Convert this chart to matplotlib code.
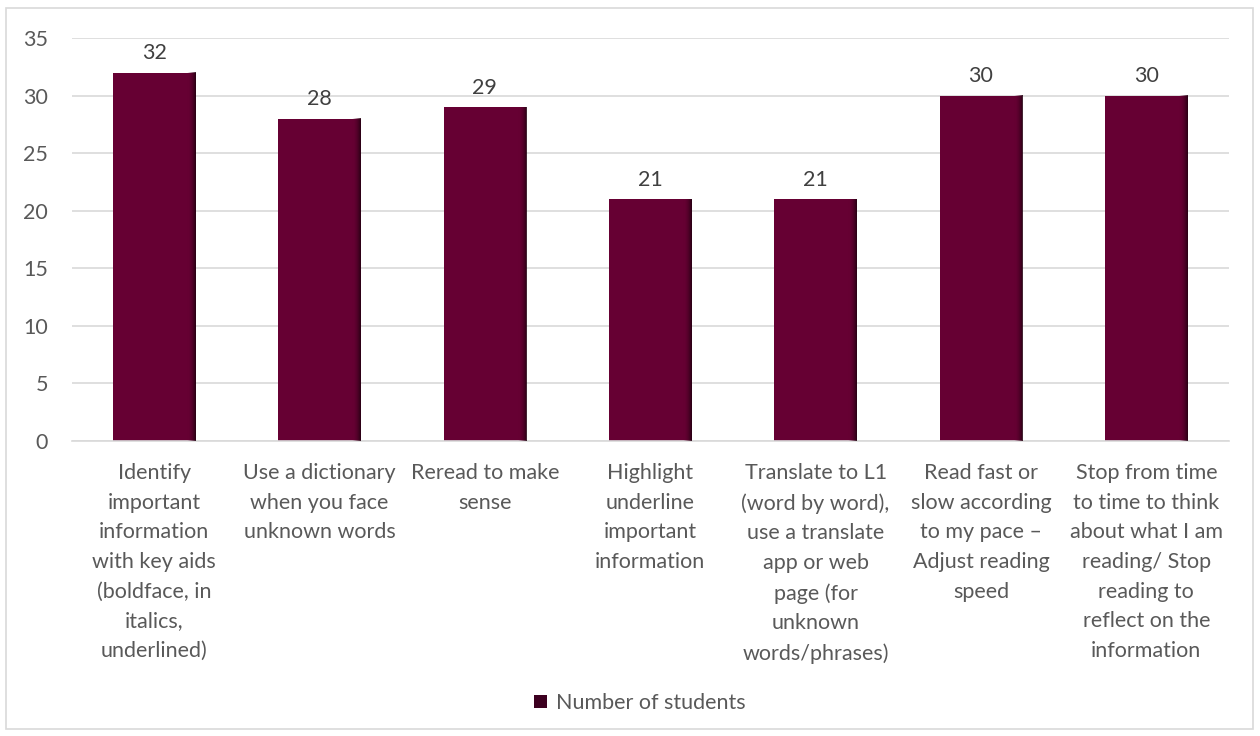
import numpy as np
import matplotlib.pyplot as plt
from matplotlib.patches import Rectangle
from matplotlib.colors import LinearSegmentedColormap

plt.rcParams['font.family'] = ['Lato', 'DejaVu Sans']

# datos
categorias = [
    "Identify\nimportant\ninformation\nwith key aids\n(boldface, in\nitalics,\nunderlined)",
    "Use a dictionary\nwhen you face\nunknown words",
    "Reread to make\nsense",
    "Highlight\nunderline\nimportant\ninformation",
    "Translate to L1\n(word by word),\nuse a translate\napp or web\npage (for\nunknown\nwords/phrases)",
    "Read fast or\nslow according\nto my pace \u2013\nAdjust reading\nspeed",
    "Stop from time\nto time to think\nabout what I am\nreading/ Stop\nreading to\nreflect on the\ninformation",
]
estudiantes = [32, 28, 29, 21, 21, 30, 30]
yticks = [0, 5, 10, 15, 20, 25, 30, 35]

color_barra = "#660033"
gris_texto = "#595959"
fs = 15.5

fig = plt.figure(figsize=(12.6, 7.36), dpi=100)
ax = fig.add_axes([71.5 / 1260, 1 - 441 / 736, (1229 - 71.5) / 1260, (441 - 38) / 736])

x = np.arange(len(estudiantes))
ancho = 0.5
barras = ax.bar(x, estudiantes, width=ancho, color=color_barra, zorder=2)

# sombreado en el borde derecho de cada barra
cmap = LinearSegmentedColormap.from_list("borde", [(0.4, 0.0, 0.2, 0.0), (0.4, 0.0, 0.2, 0.0), (0.13, 0.0, 0.06, 0.9)])
grad = np.linspace(0, 1, 64).reshape(1, -1)
for xi, v in zip(x, estudiantes):
    x1 = xi + ancho / 2
    x0 = x1 - 0.1
    ax.imshow(grad, cmap=cmap, extent=[x0, x1, 0, v], aspect="auto", zorder=3, interpolation="bilinear")
    ax.text(xi, v + 0.8, str(v), ha="center", va="bottom", fontsize=fs, color="#404040")

ax.set_xlim(-0.5, len(estudiantes) - 0.5)
ax.set_ylim(0, 35)
ax.set_yticks(yticks)
ax.tick_params(axis="y", length=0, labelsize=fs, labelcolor=gris_texto, pad=17)
ax.tick_params(axis="x", length=0, labelsize=fs, labelcolor=gris_texto, pad=16)
ax.set_xticks(x)
ax.set_xticklabels(categorias, linespacing=1.6, va="top")
ax.yaxis.grid(True, color="#d9d9d9", linewidth=1.2, zorder=0)
ax.set_axisbelow(True)
for s in ["top", "right", "left"]:
    ax.spines[s].set_visible(False)
ax.spines["bottom"].set_color("#d9d9d9")
ax.spines["bottom"].set_linewidth(1.2)

# leyenda
handle = Rectangle((0, 0), 1, 1, facecolor="#3d0020")
fig.legend([handle], ["Number of students"], loc="center", bbox_to_anchor=(640 / 1260, 1 - 703 / 736),
           frameon=False, fontsize=fs, labelcolor=gris_texto, handlelength=0.6, handleheight=0.6,
           handletextpad=0.4)

# marco exterior
fig.patches.append(Rectangle((6 / 1260, 7 / 736), 1247 / 1260, 721 / 736, transform=fig.transFigure,
                             fill=False, edgecolor="#d9d9d9", linewidth=1.2))

fig.savefig("out.png", dpi=100)
